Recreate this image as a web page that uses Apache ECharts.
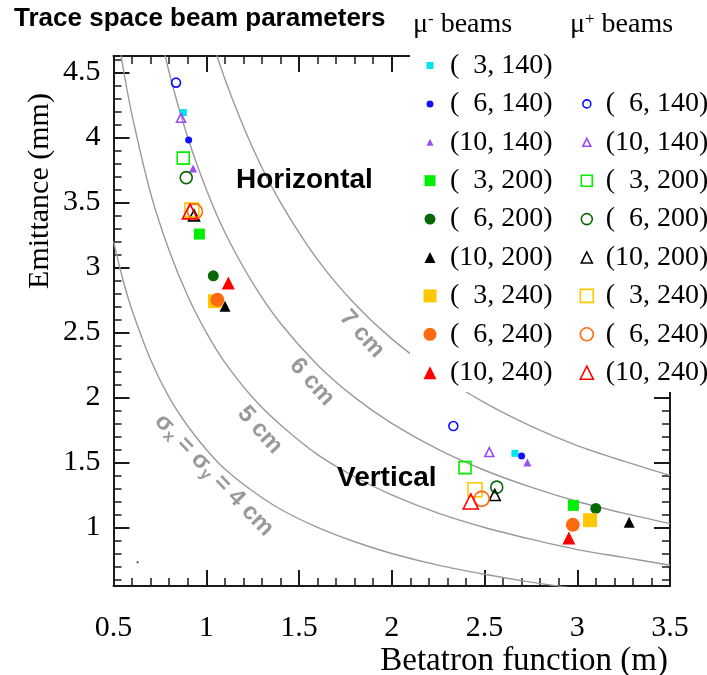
<!DOCTYPE html>
<html>
<head>
<meta charset="utf-8">
<script src="https://cdn.jsdelivr.net/npm/echarts@6/dist/echarts.min.js"></script>
<style>
html, body { margin: 0; padding: 0; background: #fff; }
#chart { width: 707px; height: 675px; }
</style>
</head>
<body>
<div id="chart"></div>
<script>
// beam settings: (emittance, momentum)
const beamLabels = ['(  3, 140)', '(  6, 140)', '(10, 140)', '(  3, 200)', '(  6, 200)', '(10, 200)', '(  3, 240)', '(  6, 240)', '(10, 240)'];

// [beta (m), emittance (mm)] for mu- beams
const minusHoriz = [[0.876, 4.19], [0.905, 3.98], [0.929, 3.76], [0.963, 3.256], [1.038, 2.935], [1.101, 2.70], [1.047, 2.74], [1.06, 2.75], [1.119, 2.88]];
const minusVert = [[2.664, 1.57], [2.70, 1.55], [2.731, 1.50], [2.979, 1.17], [3.10, 1.146], [3.28, 1.04], [3.069, 1.056], [2.976, 1.02], [2.955, 0.92]];

// mu+ beams (no (3,140) point)
const plusHoriz = [null, [0.837, 4.42], [0.864, 4.15], [0.876, 3.84], [0.892, 3.69], [0.934, 3.40], [0.922, 3.44], [0.939, 3.43], [0.912, 3.43]];
const plusVert = [null, [2.332, 1.78], [2.526, 1.58], [2.395, 1.46], [2.566, 1.31], [2.555, 1.25], [2.449, 1.29], [2.485, 1.22], [2.426, 1.20]];

const strayDot = [[0.63, 0.733]];

// iso-sigma curves
const curveBeta = [0.5, 0.55, 0.6, 0.7, 0.8, 0.9, 1.0, 1.1, 1.25, 1.4, 1.6, 1.8, 2.0, 2.25, 2.5, 2.75, 3.0, 3.25, 3.5];
const sigma4cm = [3.20, 2.91, 2.67, 2.29, 2.00, 1.78, 1.60, 1.45, 1.28, 1.14, 1.00, 0.89, 0.80, 0.71, 0.64, 0.58, 0.53, 0.49, 0.46];
const sigma5cm = [5.00, 4.55, 4.17, 3.57, 3.13, 2.78, 2.50, 2.27, 2.00, 1.79, 1.56, 1.39, 1.25, 1.11, 1.00, 0.91, 0.83, 0.77, 0.71];
const sigma6cm = [7.20, 6.55, 6.00, 5.14, 4.50, 4.00, 3.60, 3.27, 2.88, 2.57, 2.25, 2.00, 1.80, 1.60, 1.44, 1.31, 1.20, 1.11, 1.03];
const sigma7cm = [9.80, 8.91, 8.17, 7.00, 6.13, 5.44, 4.90, 4.45, 3.92, 3.50, 3.06, 2.72, 2.45, 2.18, 1.96, 1.78, 1.63, 1.51, 1.40];

const yTicks = [1, 1.5, 2, 2.5, 3, 3.5, 4, 4.5];
const yMinorTicks = [];
for (let v = 6; v <= 46; v++) yMinorTicks.push(v / 10);

// styles
const colors = ['#00e4f0', '#1010ff', '#9a4cf5', '#00ee00', '#086808', '#000000', '#ffc800', '#ff6a10', '#ff0000'];
const shapes = ['rect', 'circle', 'triangle', 'rect', 'circle', 'triangle', 'rect', 'circle', 'triangle'];
const filledSizes = [7, 7, 8, 11, 11, 11, 14, 14, 13];
const openSizes = [0, 9, 9, 12, 12, 11, 14, 15, 15];

const serif = 'Liberation Serif';
const sans = 'Liberation Sans';

let chart = echarts.init(document.getElementById('chart'));

const pairs = (xs, ys) => xs.map((x, i) => [x, ys[i]]);

const series = [];
[sigma4cm, sigma5cm, sigma6cm, sigma7cm].forEach(function (ys) {
    series.push({
        type: 'line', data: pairs(curveBeta, ys), smooth: 0.3, showSymbol: false,
        lineStyle: {color: '#9a9a9a', width: 1.4}, silent: true, z: 1
    });
});
beamLabels.forEach(function (lab, i) {
    series.push({
        name: 'm' + lab, type: 'scatter', symbol: shapes[i], symbolSize: filledSizes[i],
        data: [minusHoriz[i], minusVert[i]],
        itemStyle: {color: colors[i], opacity: 1}
    });
    if (plusHoriz[i]) {
        series.push({
            name: 'p' + lab, type: 'scatter', symbol: shapes[i], symbolSize: openSizes[i],
            data: [plusHoriz[i], plusVert[i]],
            itemStyle: {color: 'rgba(255,255,255,0)', borderColor: colors[i], borderWidth: 1.6, opacity: 1}
        });
    }
});
series.push({type: 'scatter', data: strayDot, symbolSize: 2, itemStyle: {color: '#000'}});

// legend rows: centre of row 1 at 65.5, pitch 38.4; icon centre / text start per column
const rowTop = r => 65.5 + 38.4 * (r - 1) - 19.2;
function legendBlock(prefix, idx, iconX, textX, top, size, open) {
    return {
        data: idx.map(i => prefix + beamLabels[i]),
        orient: 'vertical', left: iconX - size / 2, top: top, padding: 0, itemGap: 0,
        itemWidth: size, itemHeight: size, selectedMode: false, z: 10,
        formatter: n => n.slice(1),
        itemStyle: open ? {borderWidth: 1.6} : {borderWidth: 0},
        textStyle: {
            fontFamily: serif, fontSize: 28, color: '#000', lineHeight: 38.4,
            padding: [0, 0, 0, textX - (iconX + size / 2 + 5)]
        }
    };
}
const legends = [
    legendBlock('m', [0, 1, 2], 430, 450, rowTop(1), 7, false),
    legendBlock('m', [3, 4, 5], 430, 450, rowTop(4), 11, false),
    legendBlock('m', [6, 7, 8], 430, 450, rowTop(7), 13, false),
    legendBlock('p', [1, 2], 586, 605, rowTop(2), 8, true),
    legendBlock('p', [3, 4, 5], 586, 605, rowTop(4), 11, true),
    legendBlock('p', [6, 7, 8], 586, 605, rowTop(7), 13, true)
];

const frame = {lineStyle: {color: '#1a1a1a', width: 2}};
const majorTick = {show: true, inside: true, length: 16, lineStyle: {color: '#1a1a1a', width: 2}};
const minorTickY = {show: true, inside: true, length: 8, lineStyle: {color: '#1a1a1a', width: 1.5}};
const xMinor = {show: true, splitNumber: 5, length: 8, lineStyle: {color: '#1a1a1a', width: 1.5}};

const gray = '#999999';
const curveFont = {fontFamily: sans, fontWeight: 'bold', fontSize: 24, fill: gray};

const option = {
    animation: false,
    backgroundColor: '#fff',
    title: {
        text: 'Trace space beam parameters', left: 14, top: 6, padding: 0,
        textStyle: {fontFamily: sans, fontWeight: 'bold', fontSize: 26, color: '#000'}
    },
    legend: legends,
    grid: {left: 113.5, right: 37, top: 56, bottom: 89, containLabel: false, outerBoundsMode: 'none'},
    xAxis: [
        {
            type: 'value', position: 'bottom', min: 0.5, max: 3.5, interval: 0.5,
            axisLine: frame, axisTick: majorTick, minorTick: xMinor, splitLine: {show: false},
            axisLabel: {fontFamily: serif, fontSize: 30, color: '#000', margin: 27}
        },
        {
            type: 'value', position: 'top', min: 0.5, max: 3.5, interval: 0.5,
            axisLine: frame, axisTick: majorTick, minorTick: xMinor, splitLine: {show: false},
            axisLabel: {show: false}
        }
    ],
    yAxis: [
        {
            type: 'value', position: 'left', min: 0.55, max: 4.625,
            axisLine: frame, splitLine: {show: false},
            axisTick: Object.assign({customValues: yTicks}, majorTick),
            axisLabel: {customValues: yTicks, fontFamily: serif, fontSize: 30, color: '#000', margin: 13}
        },
        {
            type: 'value', position: 'left', min: 0.55, max: 4.625,
            axisLine: {show: false}, splitLine: {show: false},
            axisTick: Object.assign({customValues: yMinorTicks}, minorTickY),
            axisLabel: {show: false, customValues: yMinorTicks}
        },
        {
            type: 'value', position: 'right', min: 0.55, max: 4.625,
            axisLine: frame, splitLine: {show: false},
            axisTick: Object.assign({customValues: yTicks}, majorTick),
            axisLabel: {show: false, customValues: yTicks}
        },
        {
            type: 'value', position: 'right', min: 0.55, max: 4.625,
            axisLine: {show: false}, splitLine: {show: false},
            axisTick: Object.assign({customValues: yMinorTicks}, minorTickY),
            axisLabel: {show: false, customValues: yMinorTicks}
        }
    ],
    graphic: [
        // white legend box hides the frame and the 7 cm curve behind it
        {type: 'rect', z: 5, shape: {x: 410, y: 0, width: 297, height: 392}, style: {fill: '#fff'}, silent: true},
        {
            type: 'text', z: 10, x: 413, y: 25,
            style: {
                text: '{m|μ}{s|-}{m| beams}', verticalAlign: 'middle',
                rich: {m: {fontFamily: serif, fontSize: 28, fill: '#000'}, s: {fontFamily: serif, fontSize: 17, fill: '#000', verticalAlign: 'top'}}
            }
        },
        {
            type: 'text', z: 10, x: 570, y: 25,
            style: {
                text: '{m|μ}{s|+}{m| beams}', verticalAlign: 'middle',
                rich: {m: {fontFamily: serif, fontSize: 28, fill: '#000'}, s: {fontFamily: serif, fontSize: 17, fill: '#000', verticalAlign: 'top'}}
            }
        },
        {
            type: 'text', z: 10, x: 40, y: 191, rotation: Math.PI / 2,
            style: {text: 'Emittance (mm)', fontFamily: serif, fontSize: 30, fill: '#000', align: 'center', verticalAlign: 'middle'}
        },
        {
            type: 'text', z: 10, x: 668, y: 661,
            style: {text: 'Betatron function (m)', fontFamily: serif, fontSize: 33, fill: '#000', align: 'right', verticalAlign: 'middle'}
        },
        {
            type: 'text', z: 10, x: 236, y: 180,
            style: {text: 'Horizontal', fontFamily: sans, fontWeight: 'bold', fontSize: 28, fill: '#000', verticalAlign: 'middle'}
        },
        {
            type: 'text', z: 10, x: 337, y: 478,
            style: {text: 'Vertical', fontFamily: sans, fontWeight: 'bold', fontSize: 28, fill: '#000', verticalAlign: 'middle'}
        },
        {
            type: 'text', z: 6, x: 362, y: 334, rotation: -48 * Math.PI / 180,
            style: Object.assign({text: '7 cm', align: 'center', verticalAlign: 'middle'}, curveFont)
        },
        {
            type: 'text', z: 6, x: 312, y: 382, rotation: -48 * Math.PI / 180,
            style: Object.assign({text: '6 cm', align: 'center', verticalAlign: 'middle'}, curveFont)
        },
        {
            type: 'text', z: 6, x: 260, y: 430, rotation: -48 * Math.PI / 180,
            style: Object.assign({text: '5 cm', align: 'center', verticalAlign: 'middle'}, curveFont)
        },
        {
            type: 'text', z: 6, x: 214, y: 475, rotation: -46 * Math.PI / 180,
            style: {
                text: '{a|σ}{b|x}{a| = σ}{b|y}{a| = 4 cm}', align: 'center', verticalAlign: 'middle',
                rich: {
                    a: {fontFamily: sans, fontWeight: 'bold', fontSize: 24, fill: gray, lineHeight: 28},
                    b: {fontFamily: sans, fontWeight: 'bold', fontSize: 16, fill: gray, lineHeight: 28, verticalAlign: 'bottom'}
                }
            }
        }
    ],
    series: series
};

chart.setOption(option);
window.addEventListener('resize', function () {
    chart.resize();
});
</script>
</body>
</html>
